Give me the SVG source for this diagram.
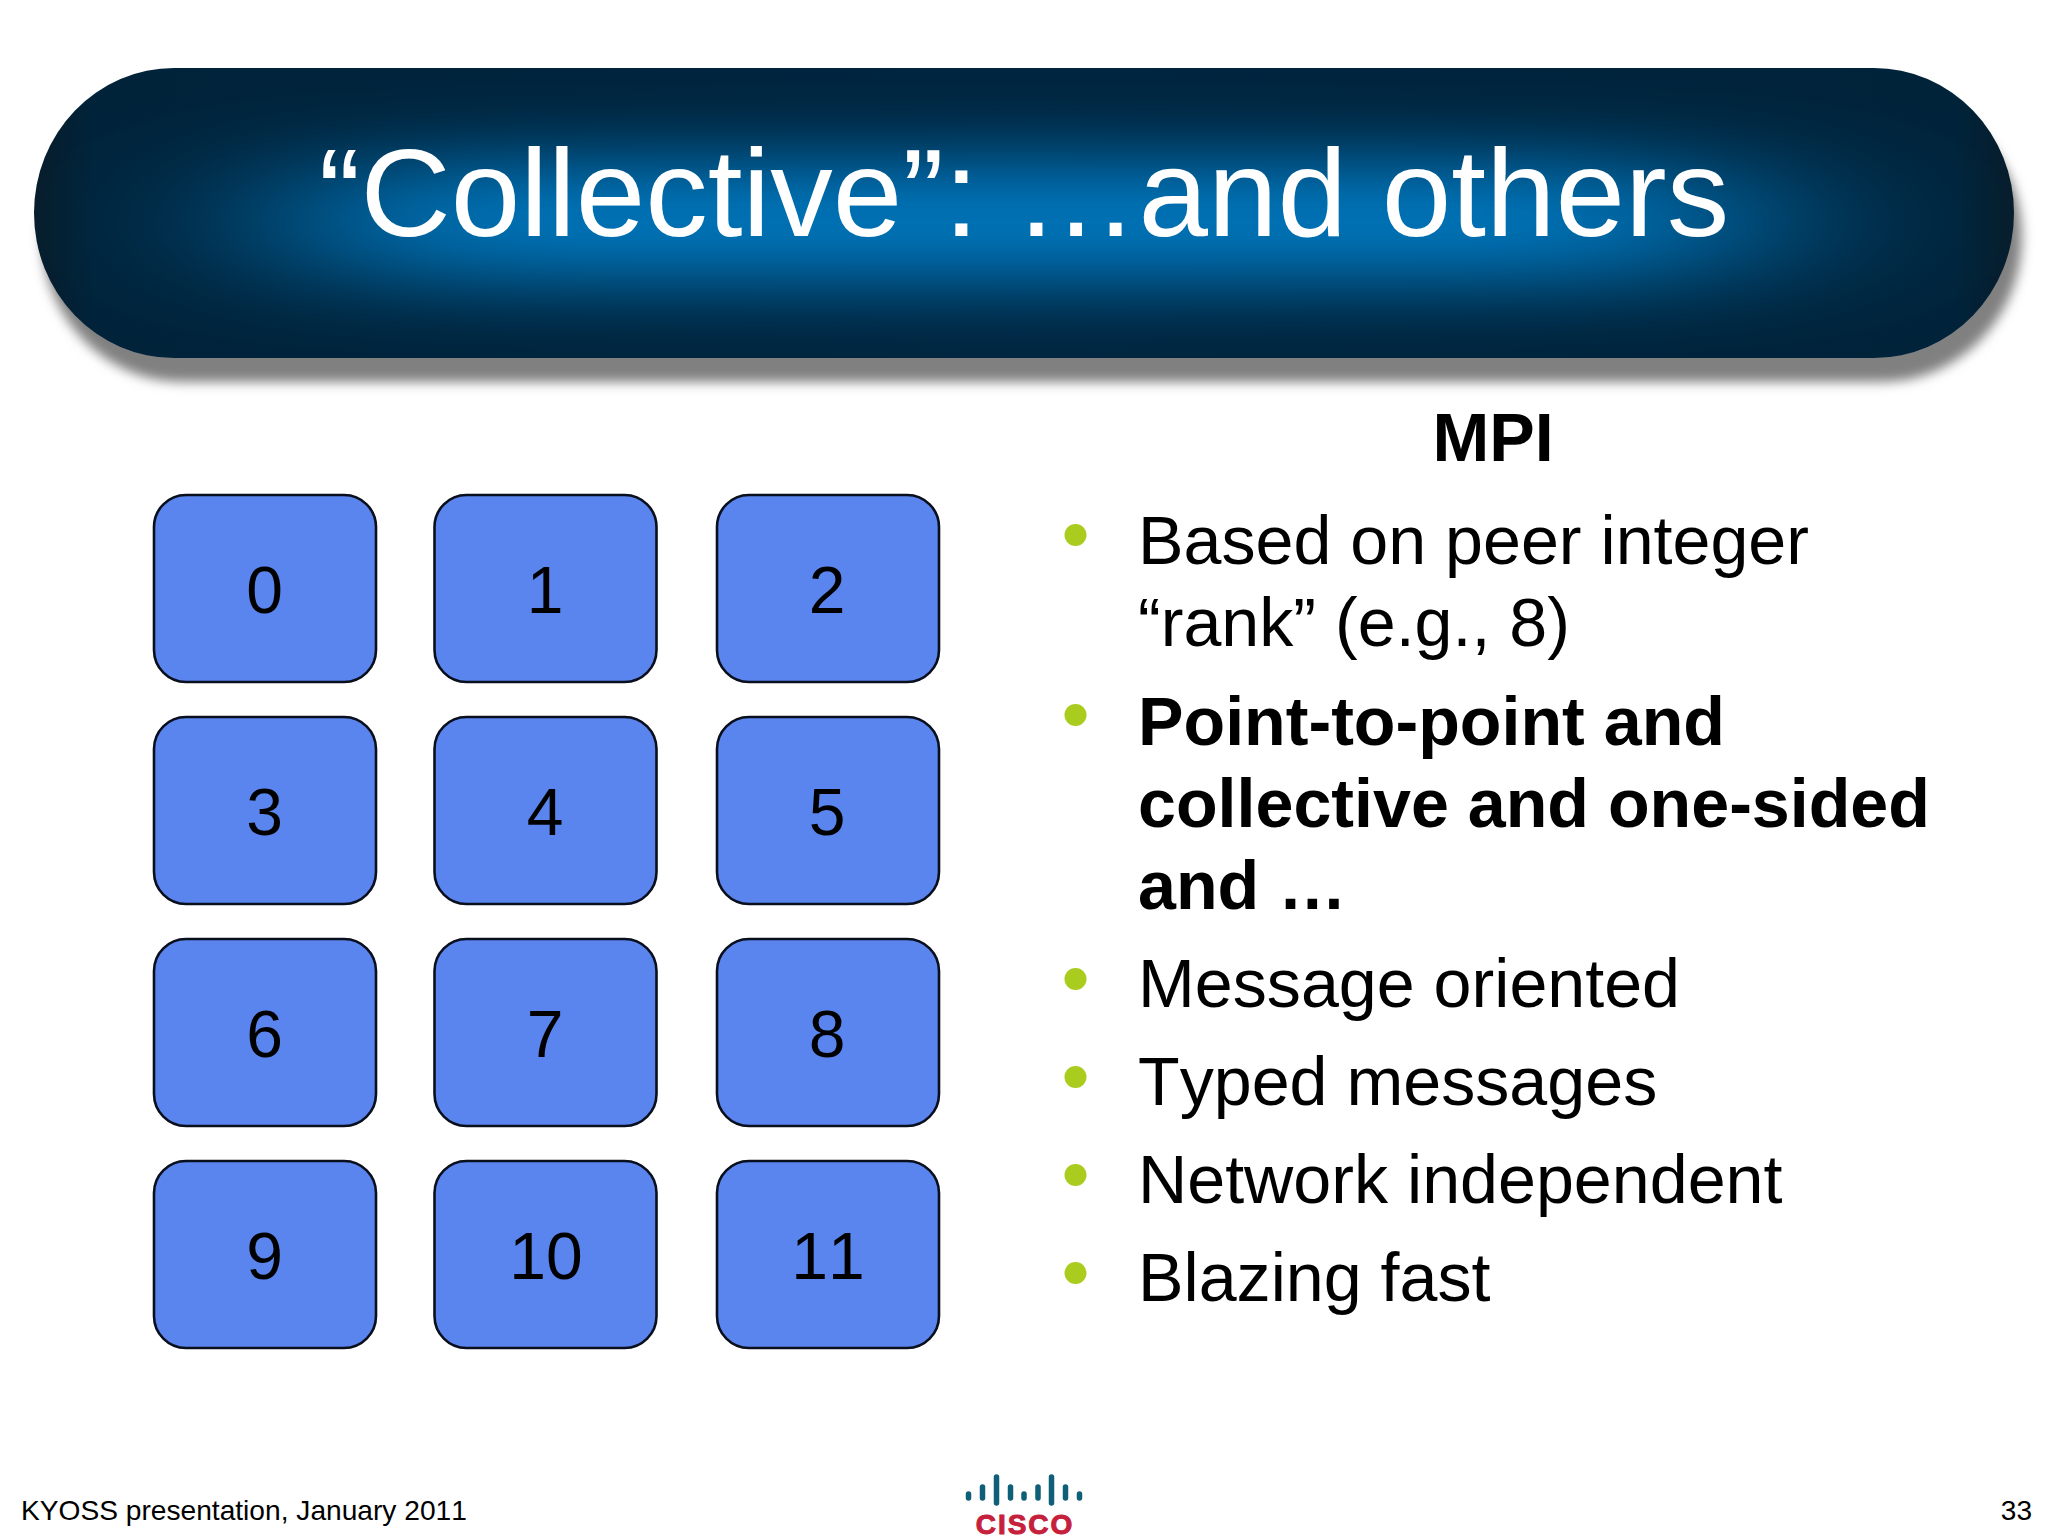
<svg xmlns="http://www.w3.org/2000/svg" width="2048" height="1536" viewBox="0 0 2048 1536">
<defs>
<style>
text{font-family:"Liberation Sans",Arial,sans-serif;font-kerning:none}
.node rect{fill:#5a85ee;stroke:#0a0f1e;stroke-width:2.6}
.node text{font-size:66px;text-anchor:middle;fill:#000}
.b{font-size:68.200px;fill:#000}
.bb{font-size:68.200px;fill:#000;font-weight:bold}
.dot{fill:#a9cc1f}
.bar{stroke:#0f5f78;stroke-width:5.5;stroke-linecap:round}
</style>
<filter id="sh" x="-5%" y="-20%" width="110%" height="140%"><feGaussianBlur stdDeviation="6"/></filter>
<filter id="gl" x="-30%" y="-100%" width="160%" height="300%"><feGaussianBlur stdDeviation="130 36"/></filter>
<clipPath id="pill"><rect x="34" y="68" width="1980" height="290" rx="140" ry="145"/></clipPath>
<linearGradient id="hz" x1="0" x2="1" y1="0" y2="0">
<stop offset="0" stop-color="#071c2a"/><stop offset=".03" stop-color="#00233a"/><stop offset=".5" stop-color="#00253f"/><stop offset=".97" stop-color="#00233a"/><stop offset="1" stop-color="#071c2a"/>
</linearGradient>
</defs>
<rect width="2048" height="1536" fill="#fff"/>
<g id="title-bar">
<rect x="42" y="92" width="1980" height="290" rx="140" ry="145" fill="#808080" filter="url(#sh)"/>
<rect x="34" y="68" width="1980" height="290" fill="url(#hz)" rx="140" ry="145"/>
<g clip-path="url(#pill)">
<rect x="290" y="160" width="1468" height="122" rx="60" fill="#0076bc" filter="url(#gl)"/>
</g>
<text x="1024" y="236" font-size="125" fill="#fff" text-anchor="middle">“Collective”: …and others</text>
</g>
<g id="connectors"/>
<g id="node-0" class="node"><rect x="154" y="495" width="222" height="187" rx="32"/><text x="264.500" y="613">0</text></g>
<g id="node-1" class="node"><rect x="434.500" y="495" width="222" height="187" rx="32"/><text x="545" y="613">1</text></g>
<g id="node-2" class="node"><rect x="717" y="495" width="222" height="187" rx="32"/><text x="827" y="613">2</text></g>
<g id="node-3" class="node"><rect x="154" y="717" width="222" height="187" rx="32"/><text x="264.500" y="835">3</text></g>
<g id="node-4" class="node"><rect x="434.500" y="717" width="222" height="187" rx="32"/><text x="545" y="835">4</text></g>
<g id="node-5" class="node"><rect x="717" y="717" width="222" height="187" rx="32"/><text x="827" y="835">5</text></g>
<g id="node-6" class="node"><rect x="154" y="939" width="222" height="187" rx="32"/><text x="264.500" y="1057">6</text></g>
<g id="node-7" class="node"><rect x="434.500" y="939" width="222" height="187" rx="32"/><text x="545" y="1057">7</text></g>
<g id="node-8" class="node"><rect x="717" y="939" width="222" height="187" rx="32"/><text x="827" y="1057">8</text></g>
<g id="node-9" class="node"><rect x="154" y="1161" width="222" height="187" rx="32"/><text x="264.500" y="1279">9</text></g>
<g id="node-10" class="node"><rect x="434.500" y="1161" width="222" height="187" rx="32"/><text x="546" y="1279">10</text></g>
<g id="node-11" class="node"><rect x="717" y="1161" width="222" height="187" rx="32"/><text x="828" y="1279">11</text></g>
<g id="mpi-list">
<text x="1493" y="461" class="bb" text-anchor="middle">MPI</text>
<circle class="dot" cx="1075.500" cy="535" r="11"/>
<text x="1138" y="564" class="b">Based on peer integer</text>
<text x="1138" y="646" class="b">“rank” (e.g., 8)</text>
<circle class="dot" cx="1075.500" cy="715" r="11"/>
<text x="1138" y="745" class="bb">Point-to-point and</text>
<text x="1138" y="827" class="bb">collective and one-sided</text>
<text x="1138" y="909" class="bb">and …</text>
<circle class="dot" cx="1075.500" cy="979" r="11"/>
<text x="1138" y="1007" class="b">Message oriented</text>
<circle class="dot" cx="1075.500" cy="1077" r="11"/>
<text x="1138" y="1105" class="b">Typed messages</text>
<circle class="dot" cx="1075.500" cy="1175" r="11"/>
<text x="1138" y="1203" class="b">Network independent</text>
<circle class="dot" cx="1075.500" cy="1273" r="11"/>
<text x="1138" y="1301" class="b">Blazing fast</text>
</g>
<g id="footer">
<text x="21" y="1520" font-size="28.150">KYOSS presentation, January 2011</text>
<text x="2032" y="1520" font-size="28" text-anchor="end">33</text>
</g>
<g id="cisco-logo">
<path class="bar" d="M968.500 1494V1498M982.500 1487V1498M996.500 1477V1503M1010.500 1487V1498M1024 1494V1498M1038 1487V1498M1051.500 1477V1503M1065.500 1487V1498M1079.500 1494V1498"/>
<text x="1025" y="1534" font-size="28" font-weight="bold" fill="#c5203c" stroke="#c5203c" stroke-width="1" text-anchor="middle" letter-spacing="2">CISCO</text>
</g>
</svg>
